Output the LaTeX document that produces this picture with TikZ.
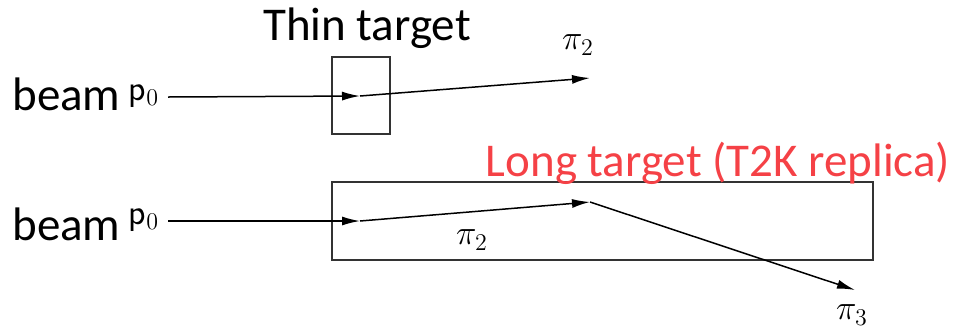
\documentclass[tikz,border=0pt]{standalone}
\usepackage{fontspec}
\setmainfont{Carlito}
\usetikzlibrary{arrows.meta,positioning}
\definecolor{labelred}{RGB}{245,65,70}
\tikzset{
  track/.style={-{Latex[length=9pt,width=4.5pt]}, line width=0.75pt},
  tgtbox/.style={draw=black!80, line width=0.8pt, inner sep=0pt},
  biglbl/.style={font=\fontsize{23.5}{28}\selectfont, inner sep=0pt},
  ptcl/.style={font=\fontsize{18}{20}\selectfont, inner sep=0pt},
}
\begin{document}
\begin{tikzpicture}[x=0.5pt,y=-0.5pt]
\useasboundingbox (0,0) rectangle (957,328);

% targets
\node[tgtbox, minimum width=29pt, minimum height=38.5pt] (thin) at (361,95.5) {};
\node[tgtbox, minimum width=270.5pt, minimum height=39pt] (long) at (602.5,221) {};
\node[biglbl] (thinlbl) at (367,28) {Thin target};
\node[biglbl, text=labelred] (longlbl) at (718,163) {Long target (T2K replica)};

% beam labels
\node[biglbl, anchor=base west] (beamup) at (12,110) {beam};
\node[biglbl, anchor=base west] (beamlo) at (12,240) {beam};
\node[ptcl] (p0up) at (144,96) {\textsf{p}$_0$};
\node[ptcl] (p0lo) at (144,220) {\textsf{p}$_0$};

% track points
\coordinate (startup) at (168,97);
\coordinate (hitup) at (360,96);
\coordinate (endup) at (590,78);
\coordinate (startlo) at (168,221);
\coordinate (hitlo) at (360,221);
\coordinate (turn) at (590,202);
\coordinate (endlo) at (855,290);

\node[ptcl] (pi2up) at (578,45) {$\pi_2$};
\node[ptcl] (pi2lo) at (472,240) {$\pi_2$};
\node[ptcl] (pi3) at (852,315) {$\pi_3$};

\draw[track] (startup) -- (hitup);
\draw[track] (hitup) -- (endup);
\draw[track] (startlo) -- (hitlo);
\draw[track] (hitlo) -- (turn);
\draw[track] (turn) -- (endlo);
\end{tikzpicture}
\end{document}
